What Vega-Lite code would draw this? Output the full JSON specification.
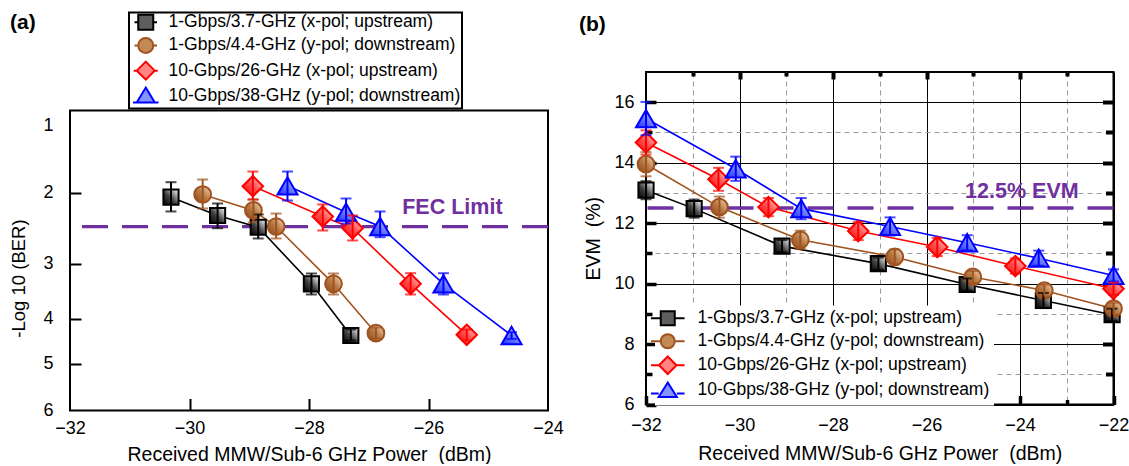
{
  "$schema": "https://vega.github.io/schema/vega-lite/v6.json",
  "padding": {"left": 9, "top": 11, "right": 0, "bottom": 0},
  "background": "white",
  "spacing": 14,
  "align": "none",
  "config": {
    "font": "Liberation Sans",
    "view": {"stroke": "black", "strokeWidth": 2},
    "axis": {"labelFont": "Liberation Sans", "labelFontSize": 18, "labelColor": "#000000", "titleFont": "Liberation Sans", "titleFontSize": 19.5, "titleFontWeight": "normal", "titleColor": "#000000", "domain": false, "grid": false, "tickColor": "#000000", "labelFlush": false, "labelOverlap": false},
    "legend": {"labelFont": "Liberation Sans", "labelColor": "#000000", "labelLimit": 400, "symbolOpacity": 1, "strokeWidth": 2},
    "title": {"font": "Liberation Sans", "fontSize": 21, "fontWeight": "bold", "color": "#000000", "anchor": "start"}
  },
  "datasets": {
    "a": [
      {"series": "1-Gbps/3.7-GHz (x-pol; upstream)", "x": -30.31, "y": 2.066, "lo": 1.846, "hi": 2.266},
      {"series": "1-Gbps/3.7-GHz (x-pol; upstream)", "x": -29.53, "y": 2.323, "lo": 2.154, "hi": 2.501},
      {"series": "1-Gbps/3.7-GHz (x-pol; upstream)", "x": -28.85, "y": 2.487, "lo": 2.308, "hi": 2.645},
      {"series": "1-Gbps/3.7-GHz (x-pol; upstream)", "x": -27.96, "y": 3.364, "lo": 3.176, "hi": 3.558},
      {"series": "1-Gbps/3.7-GHz (x-pol; upstream)", "x": -27.30, "y": 4.374, "lo": 4.239, "hi": 4.485},
      {"series": "1-Gbps/4.4-GHz (y-pol; downstream)", "x": -29.78, "y": 2.028, "lo": 1.806, "hi": 2.224},
      {"series": "1-Gbps/4.4-GHz (y-pol; downstream)", "x": -28.93, "y": 2.252, "lo": 2.098, "hi": 2.42},
      {"series": "1-Gbps/4.4-GHz (y-pol; downstream)", "x": -28.55, "y": 2.477, "lo": 2.295, "hi": 2.645},
      {"series": "1-Gbps/4.4-GHz (y-pol; downstream)", "x": -27.59, "y": 3.364, "lo": 3.176, "hi": 3.558},
      {"series": "1-Gbps/4.4-GHz (y-pol; downstream)", "x": -26.88, "y": 4.322, "lo": 4.195, "hi": 4.44},
      {"series": "10-Gbps/26-GHz (x-pol; upstream)", "x": -28.94, "y": 1.906, "lo": 1.687, "hi": 2.098},
      {"series": "10-Gbps/26-GHz (x-pol; upstream)", "x": -27.77, "y": 2.337, "lo": 2.168, "hi": 2.533},
      {"series": "10-Gbps/26-GHz (x-pol; upstream)", "x": -27.27, "y": 2.501, "lo": 2.322, "hi": 2.673},
      {"series": "10-Gbps/26-GHz (x-pol; upstream)", "x": -26.30, "y": 3.364, "lo": 3.171, "hi": 3.558},
      {"series": "10-Gbps/26-GHz (x-pol; upstream)", "x": -25.36, "y": 4.358, "lo": 4.24, "hi": 4.485},
      {"series": "10-Gbps/38-GHz (y-pol; downstream)", "x": -28.36, "y": 1.90, "lo": 1.687, "hi": 2.112},
      {"series": "10-Gbps/38-GHz (y-pol; downstream)", "x": -27.38, "y": 2.276, "lo": 2.084, "hi": 2.435},
      {"series": "10-Gbps/38-GHz (y-pol; downstream)", "x": -26.81, "y": 2.477, "lo": 2.266, "hi": 2.627},
      {"series": "10-Gbps/38-GHz (y-pol; downstream)", "x": -25.75, "y": 3.364, "lo": 3.171, "hi": 3.558},
      {"series": "10-Gbps/38-GHz (y-pol; downstream)", "x": -24.61, "y": 4.374, "lo": 4.30, "hi": 4.45}
    ],
    "b": [
      {"series": "1-Gbps/3.7-GHz (x-pol; upstream)", "x": -32.00, "y": 13.09, "lo": 12.79, "hi": 13.39},
      {"series": "1-Gbps/3.7-GHz (x-pol; upstream)", "x": -30.97, "y": 12.48, "lo": 12.18, "hi": 12.78},
      {"series": "1-Gbps/3.7-GHz (x-pol; upstream)", "x": -29.09, "y": 11.24, "lo": 11.04, "hi": 11.44},
      {"series": "1-Gbps/3.7-GHz (x-pol; upstream)", "x": -27.03, "y": 10.66, "lo": 10.46, "hi": 10.86},
      {"series": "1-Gbps/3.7-GHz (x-pol; upstream)", "x": -25.13, "y": 9.97, "lo": 9.77, "hi": 10.17},
      {"series": "1-Gbps/3.7-GHz (x-pol; upstream)", "x": -23.50, "y": 9.44, "lo": 9.19, "hi": 9.69},
      {"series": "1-Gbps/3.7-GHz (x-pol; upstream)", "x": -22.03, "y": 8.97, "lo": 8.77, "hi": 9.17},
      {"series": "1-Gbps/4.4-GHz (y-pol; downstream)", "x": -32.00, "y": 13.95, "lo": 13.55, "hi": 14.35},
      {"series": "1-Gbps/4.4-GHz (y-pol; downstream)", "x": -30.43, "y": 12.53, "lo": 12.18, "hi": 12.88},
      {"series": "1-Gbps/4.4-GHz (y-pol; downstream)", "x": -28.70, "y": 11.45, "lo": 11.15, "hi": 11.75},
      {"series": "1-Gbps/4.4-GHz (y-pol; downstream)", "x": -26.68, "y": 10.88, "lo": 10.63, "hi": 11.13},
      {"series": "1-Gbps/4.4-GHz (y-pol; downstream)", "x": -25.01, "y": 10.22, "lo": 10.02, "hi": 10.42},
      {"series": "1-Gbps/4.4-GHz (y-pol; downstream)", "x": -23.48, "y": 9.77, "lo": 9.57, "hi": 9.97},
      {"series": "1-Gbps/4.4-GHz (y-pol; downstream)", "x": -22.00, "y": 9.17, "lo": 8.97, "hi": 9.37},
      {"series": "10-Gbps/26-GHz (x-pol; upstream)", "x": -32.00, "y": 14.67, "lo": 14.27, "hi": 15.07},
      {"series": "10-Gbps/26-GHz (x-pol; upstream)", "x": -30.45, "y": 13.45, "lo": 13.07, "hi": 13.83},
      {"series": "10-Gbps/26-GHz (x-pol; upstream)", "x": -29.38, "y": 12.53, "lo": 12.23, "hi": 12.83},
      {"series": "10-Gbps/26-GHz (x-pol; upstream)", "x": -27.46, "y": 11.74, "lo": 11.44, "hi": 12.04},
      {"series": "10-Gbps/26-GHz (x-pol; upstream)", "x": -25.77, "y": 11.21, "lo": 10.91, "hi": 11.51},
      {"series": "10-Gbps/26-GHz (x-pol; upstream)", "x": -24.10, "y": 10.58, "lo": 10.33, "hi": 10.83},
      {"series": "10-Gbps/26-GHz (x-pol; upstream)", "x": -22.00, "y": 9.83, "lo": 9.63, "hi": 10.03},
      {"series": "10-Gbps/38-GHz (y-pol; downstream)", "x": -32.00, "y": 15.46, "lo": 14.91, "hi": 16.01},
      {"series": "10-Gbps/38-GHz (y-pol; downstream)", "x": -30.08, "y": 13.80, "lo": 13.40, "hi": 14.20},
      {"series": "10-Gbps/38-GHz (y-pol; downstream)", "x": -28.68, "y": 12.48, "lo": 12.13, "hi": 12.83},
      {"series": "10-Gbps/38-GHz (y-pol; downstream)", "x": -26.78, "y": 11.89, "lo": 11.59, "hi": 12.19},
      {"series": "10-Gbps/38-GHz (y-pol; downstream)", "x": -25.13, "y": 11.35, "lo": 11.10, "hi": 11.60},
      {"series": "10-Gbps/38-GHz (y-pol; downstream)", "x": -23.60, "y": 10.84, "lo": 10.59, "hi": 11.09},
      {"series": "10-Gbps/38-GHz (y-pol; downstream)", "x": -22.00, "y": 10.27, "lo": 10.07, "hi": 10.47}
    ]
  },
  "resolve": {
    "scale": {"color": "independent", "stroke": "independent", "fill": "independent", "shape": "independent"},
    "legend": {"color": "independent", "stroke": "independent", "fill": "independent", "shape": "independent"}
  },
  "hconcat": [
    {
      "width": 478,
      "height": 338.5,
      "view": {"stroke": null},
      "title": {"text": "(a)", "frame": "group", "anchor": "start", "offset": -21.5, "dx": -60},
      "resolve": {"axis": {"x": "independent", "y": "independent"}},
      "layer": [
        {
          "data": {"values": [{"frame": "plot"}]},
          "mark": {"type": "rect", "fillOpacity": 0, "stroke": "#000000", "strokeWidth": 2},
          "encoding": {
            "x": {"datum": -32, "type": "quantitative", "scale": {"domain": [-32, -24], "nice": false, "zero": false}, "axis": null},
            "x2": {"datum": -24},
            "y": {"datum": 0.78, "type": "quantitative", "scale": {"domain": [0.5, 0.78, 1, 2, 3, 4, 5, 6], "range": [0, 38.5, 53.5, 120.5, 191.8, 246.8, 291.5, 338.5], "nice": false, "zero": false}, "axis": null},
            "y2": {"datum": 6}
          }
        },
        {
          "data": {"values": [{"fec": 2.48}]},
          "mark": {"type": "rule", "color": "#7030a0", "strokeWidth": 3.3, "strokeDash": [26, 14]},
          "encoding": {
            "y": {"field": "fec", "type": "quantitative",
              "scale": {"domain": [0.5, 0.78, 1, 2, 3, 4, 5, 6], "range": [0, 38.5, 53.5, 120.5, 191.8, 246.8, 291.5, 338.5], "nice": false, "zero": false},
              "axis": {"orient": "left", "title": "-Log 10 (BER)", "values": [1, 2, 3, 4, 5, 6], "tickSize": -11, "tickWidth": 2,
                "tickOpacity": {"condition": {"test": "datum.value == 1 || datum.value == 6", "value": 0}, "value": 1},
                "labelPadding": 28, "titleFontSize": 18.5, "titlePadding": 14, "titleY": 206}}
          }
        },
        {
          "data": {"name": "a"},
          "mark": {"type": "line", "strokeWidth": 1.6},
          "encoding": {
            "x": {"field": "x", "type": "quantitative", "scale": {"domain": [-32, -24], "nice": false, "zero": false},
              "axis": {"orient": "bottom", "title": "Received MMW/Sub-6 GHz Power\u00a0\u00a0(dBm)", "values": [-32, -30, -28, -26, -24], "tickSize": -12, "tickWidth": 2,
                "tickOpacity": {"condition": {"test": "datum.value == -32 || datum.value == -24", "value": 0}, "value": 1},
                "labelPadding": 21, "titlePadding": 8}},
            "y": {"field": "y", "type": "quantitative", "scale": {"domain": [0.5, 0.78, 1, 2, 3, 4, 5, 6], "range": [0, 38.5, 53.5, 120.5, 191.8, 246.8, 291.5, 338.5], "nice": false, "zero": false}, "axis": null},
            "color": {"field": "series", "type": "nominal", "legend": null,
              "scale": {"domain": ["10-Gbps/38-GHz (y-pol; downstream)", "10-Gbps/26-GHz (x-pol; upstream)", "1-Gbps/4.4-GHz (y-pol; downstream)", "1-Gbps/3.7-GHz (x-pol; upstream)"], "range": ["#0000ff", "#ff0000", "#a0521f", "#000000"]}}
          }
        },
        {
          "data": {"name": "a"},
          "transform": [{"filter": {"field": "series", "equal": "1-Gbps/3.7-GHz (x-pol; upstream)"}}],
          "mark": {"type": "point", "shape": "square", "size": 230, "filled": true, "opacity": 1, "strokeWidth": 2, "stroke": "#000000",
            "fill": {"gradient": "linear", "x1": 0, "y1": 1, "x2": 1, "y2": 0, "stops": [{"offset": 0, "color": "#000000"}, {"offset": 0.45, "color": "#404040"}, {"offset": 1, "color": "#ffffff"}]}},
          "encoding": {
            "x": {"field": "x", "type": "quantitative", "scale": {"domain": [-32, -24], "nice": false, "zero": false}, "axis": null},
            "y": {"field": "y", "type": "quantitative", "scale": {"domain": [0.5, 0.78, 1, 2, 3, 4, 5, 6], "range": [0, 38.5, 53.5, 120.5, 191.8, 246.8, 291.5, 338.5], "nice": false, "zero": false}, "axis": null}
          }
        },
        {
          "data": {"name": "a"},
          "transform": [{"filter": {"field": "series", "equal": "1-Gbps/4.4-GHz (y-pol; downstream)"}}],
          "mark": {"type": "point", "shape": "circle", "size": 280, "filled": true, "opacity": 1, "strokeWidth": 2, "stroke": "#a0521f",
            "fill": {"gradient": "linear", "x1": 0, "y1": 1, "x2": 1, "y2": 0, "stops": [{"offset": 0, "color": "#8a4515"}, {"offset": 0.5, "color": "#b87a45"}, {"offset": 1, "color": "#f3dcc4"}]}},
          "encoding": {
            "x": {"field": "x", "type": "quantitative", "scale": {"domain": [-32, -24], "nice": false, "zero": false}, "axis": null},
            "y": {"field": "y", "type": "quantitative", "scale": {"domain": [0.5, 0.78, 1, 2, 3, 4, 5, 6], "range": [0, 38.5, 53.5, 120.5, 191.8, 246.8, 291.5, 338.5], "nice": false, "zero": false}, "axis": null}
          }
        },
        {
          "data": {"name": "a"},
          "transform": [{"filter": {"field": "series", "equal": "10-Gbps/26-GHz (x-pol; upstream)"}}],
          "mark": {"type": "point", "shape": "diamond", "size": 420, "filled": true, "opacity": 1, "strokeWidth": 2, "stroke": "#ff0000",
            "fill": {"gradient": "linear", "x1": 0, "y1": 1, "x2": 1, "y2": 0, "stops": [{"offset": 0, "color": "#ff0000"}, {"offset": 0.5, "color": "#ff5050"}, {"offset": 1, "color": "#ffe2e2"}]}},
          "encoding": {
            "x": {"field": "x", "type": "quantitative", "scale": {"domain": [-32, -24], "nice": false, "zero": false}, "axis": null},
            "y": {"field": "y", "type": "quantitative", "scale": {"domain": [0.5, 0.78, 1, 2, 3, 4, 5, 6], "range": [0, 38.5, 53.5, 120.5, 191.8, 246.8, 291.5, 338.5], "nice": false, "zero": false}, "axis": null}
          }
        },
        {
          "data": {"name": "a"},
          "transform": [{"filter": {"field": "series", "equal": "10-Gbps/38-GHz (y-pol; downstream)"}}],
          "mark": {"type": "point", "shape": "triangle-up", "size": 400, "filled": true, "opacity": 1, "strokeWidth": 2, "stroke": "#0000ff",
            "fill": {"gradient": "linear", "x1": 0, "y1": 1, "x2": 1, "y2": 0, "stops": [{"offset": 0, "color": "#1a2cff"}, {"offset": 0.5, "color": "#7080ff"}, {"offset": 1, "color": "#e6e9ff"}]}},
          "encoding": {
            "x": {"field": "x", "type": "quantitative", "scale": {"domain": [-32, -24], "nice": false, "zero": false}, "axis": null},
            "y": {"field": "y", "type": "quantitative", "scale": {"domain": [0.5, 0.78, 1, 2, 3, 4, 5, 6], "range": [0, 38.5, 53.5, 120.5, 191.8, 246.8, 291.5, 338.5], "nice": false, "zero": false}, "axis": null}
          }
        },
        {
          "data": {"name": "a"},
          "mark": {"type": "point", "filled": true, "opacity": 0},
          "encoding": {
            "x": {"field": "x", "type": "quantitative", "scale": {"domain": [-32, -24], "nice": false, "zero": false}, "axis": null},
            "y": {"field": "y", "type": "quantitative", "scale": {"domain": [0.5, 0.78, 1, 2, 3, 4, 5, 6], "range": [0, 38.5, 53.5, 120.5, 191.8, 246.8, 291.5, 338.5], "nice": false, "zero": false}, "axis": null},
            "stroke": {"field": "series", "type": "nominal",
              "scale": {"domain": ["1-Gbps/3.7-GHz (x-pol; upstream)", "1-Gbps/4.4-GHz (y-pol; downstream)", "10-Gbps/26-GHz (x-pol; upstream)", "10-Gbps/38-GHz (y-pol; downstream)"], "range": ["#000000", "#a0521f", "#ff0000", "#0000ff"]},
              "legend": {"orient": "none", "legendX": 59, "legendY": -59.5, "title": null, "direction": "vertical", "labelFontSize": 17.5, "symbolSize": 225, "symbolStrokeWidth": 2, "symbolOpacity": 1, "strokeColor": "#000000", "fillColor": "white", "padding": 1, "rowPadding": -0.8, "symbolOffset": 7, "labelOffset": 14}},
            "fill": {"field": "series", "type": "nominal",
              "scale": {"domain": ["1-Gbps/3.7-GHz (x-pol; upstream)", "1-Gbps/4.4-GHz (y-pol; downstream)", "10-Gbps/26-GHz (x-pol; upstream)", "10-Gbps/38-GHz (y-pol; downstream)"], "range": ["#5e5e5e", "#c48a55", "#ff8484", "#8494ff"]}},
            "shape": {"field": "series", "type": "nominal",
              "scale": {"domain": ["1-Gbps/3.7-GHz (x-pol; upstream)", "1-Gbps/4.4-GHz (y-pol; downstream)", "10-Gbps/26-GHz (x-pol; upstream)", "10-Gbps/38-GHz (y-pol; downstream)"],
                "range": ["M-1.5,0H-1M1,0H1.5M-1,-1H1V1H-1Z", "M-1.5,0H-1M1,0H1.5M-1,0A1,1,0,1,1,1,0A1,1,0,1,1,-1,0Z", "M-1.6,0H-1.2M1.2,0H1.6M0,-1.2L1.2,0L0,1.2L-1.2,0Z", "M-1.7,0.9H-1.2M1.2,0.9H1.7M0,-1.1L1.2,0.9L-1.2,0.9Z"]}}
          }
        },
        {
          "data": {"name": "a"},
          "mark": {"type": "errorbar", "ticks": {"size": 11}, "thickness": 2},
          "encoding": {
            "x": {"field": "x", "type": "quantitative", "scale": {"domain": [-32, -24], "nice": false, "zero": false}, "axis": null},
            "y": {"field": "lo", "type": "quantitative", "scale": {"domain": [0.5, 0.78, 1, 2, 3, 4, 5, 6], "range": [0, 38.5, 53.5, 120.5, 191.8, 246.8, 291.5, 338.5], "nice": false, "zero": false}, "axis": null},
            "y2": {"field": "hi"},
            "color": {"field": "series", "type": "nominal", "legend": null,
              "scale": {"domain": ["10-Gbps/38-GHz (y-pol; downstream)", "10-Gbps/26-GHz (x-pol; upstream)", "1-Gbps/4.4-GHz (y-pol; downstream)", "1-Gbps/3.7-GHz (x-pol; upstream)"], "range": ["#0000ff", "#ff0000", "#a0521f", "#000000"]}}
          }
        },
        {
          "data": {"values": [{"label": "FEC Limit", "x": -25.6, "y": 2.215}]},
          "mark": {"type": "text", "font": "Liberation Sans", "fontSize": 21.5, "fontWeight": "bold", "color": "#7030a0", "align": "center", "baseline": "middle"},
          "encoding": {
            "x": {"field": "x", "type": "quantitative", "scale": {"domain": [-32, -24], "nice": false, "zero": false}, "axis": null},
            "y": {"field": "y", "type": "quantitative", "scale": {"domain": [0.5, 0.78, 1, 2, 3, 4, 5, 6], "range": [0, 38.5, 53.5, 120.5, 191.8, 246.8, 291.5, 338.5], "nice": false, "zero": false}, "axis": null},
            "text": {"field": "label"}
          }
        }
      ]
    },
    {
      "width": 467.5,
      "height": 332.5,
      "title": {"text": "(b)", "frame": "group", "anchor": "start", "offset": 35, "dx": -67},
      "resolve": {"axis": {"x": "independent", "y": "independent"}},
      "layer": [
        {
          "data": {"values": [{"evm": 12.5}]},
          "mark": {"type": "rule", "color": "#7030a0", "strokeWidth": 3.3, "strokeDash": [26, 14]},
          "encoding": {
            "y": {"field": "evm", "type": "quantitative", "scale": {"domain": [6, 17], "nice": false, "zero": false},
              "axis": {"orient": "left", "title": "EVM\u00a0\u00a0(%)", "values": [6, 7, 8, 9, 10, 11, 12, 13, 14, 15, 16],
                "labelExpr": "datum.value % 2 == 0 ? datum.label : ''",
                "tickSize": {"condition": {"test": "datum.value % 2 == 0", "value": -10}, "value": -6},
                "tickWidth": 3.5,
                "grid": true,
                "gridColor": {"condition": {"test": "datum.value % 2 == 0", "value": "#000000"}, "value": "#9a9a9a"},
                "gridDash": {"condition": {"test": "datum.value % 2 == 0", "value": []}, "value": [5, 4]},
                "gridWidth": 1,
                "labelPadding": 22, "titlePadding": 10}}
          }
        },
        {
          "data": {"name": "b"},
          "mark": {"type": "line", "strokeWidth": 1.6},
          "encoding": {
            "x": {"field": "x", "type": "quantitative", "scale": {"domain": [-32, -22], "nice": false, "zero": false},
              "axis": {"orient": "bottom", "title": "Received MMW/Sub-6 GHz Power\u00a0\u00a0(dBm)", "values": [-32, -31, -30, -29, -28, -27, -26, -25, -24, -23, -22],
                "labelExpr": "datum.value % 2 == 0 ? datum.label : ''",
                "tickSize": {"condition": {"test": "datum.value % 2 == 0", "value": -9}, "value": -5},
                "tickWidth": 3.5,
                "grid": true,
                "gridColor": {"condition": {"test": "datum.value % 2 == 0", "value": "#000000"}, "value": "#9a9a9a"},
                "gridDash": {"condition": {"test": "datum.value % 2 == 0", "value": []}, "value": [5, 4]},
                "gridWidth": 1,
                "labelPadding": 21, "titlePadding": 6}},
            "y": {"field": "y", "type": "quantitative", "scale": {"domain": [6, 17], "nice": false, "zero": false}, "axis": null},
            "color": {"field": "series", "type": "nominal", "legend": null,
              "scale": {"domain": ["10-Gbps/38-GHz (y-pol; downstream)", "10-Gbps/26-GHz (x-pol; upstream)", "1-Gbps/4.4-GHz (y-pol; downstream)", "1-Gbps/3.7-GHz (x-pol; upstream)"], "range": ["#0000ff", "#ff0000", "#a0521f", "#000000"]}}
          }
        },
        {
          "data": {"name": "b"},
          "transform": [{"filter": {"field": "series", "equal": "1-Gbps/3.7-GHz (x-pol; upstream)"}}],
          "mark": {"type": "point", "shape": "square", "size": 230, "filled": true, "opacity": 1, "strokeWidth": 2, "stroke": "#000000",
            "fill": {"gradient": "linear", "x1": 0, "y1": 1, "x2": 1, "y2": 0, "stops": [{"offset": 0, "color": "#000000"}, {"offset": 0.45, "color": "#404040"}, {"offset": 1, "color": "#ffffff"}]}},
          "encoding": {
            "x": {"field": "x", "type": "quantitative", "scale": {"domain": [-32, -22], "nice": false, "zero": false},
              "axis": {"orient": "top", "labels": false, "title": null, "values": [-31, -30, -29, -28, -27, -26, -25, -24, -23],
                "tickSize": {"condition": {"test": "datum.value % 2 == 0", "value": -7}, "value": -4}, "tickWidth": 4, "grid": false}},
            "y": {"field": "y", "type": "quantitative", "scale": {"domain": [6, 17], "nice": false, "zero": false},
              "axis": {"orient": "right", "labels": false, "title": null, "values": [7, 8, 9, 10, 11, 12, 13, 14, 15, 16],
                "tickSize": {"condition": {"test": "datum.value % 2 == 0", "value": -11}, "value": -8}, "tickWidth": 4, "grid": false}}
          }
        },
        {
          "data": {"name": "b"},
          "transform": [{"filter": {"field": "series", "equal": "1-Gbps/4.4-GHz (y-pol; downstream)"}}],
          "mark": {"type": "point", "shape": "circle", "size": 280, "filled": true, "opacity": 1, "strokeWidth": 2, "stroke": "#a0521f",
            "fill": {"gradient": "linear", "x1": 0, "y1": 1, "x2": 1, "y2": 0, "stops": [{"offset": 0, "color": "#8a4515"}, {"offset": 0.5, "color": "#b87a45"}, {"offset": 1, "color": "#f3dcc4"}]}},
          "encoding": {
            "x": {"field": "x", "type": "quantitative", "scale": {"domain": [-32, -22], "nice": false, "zero": false}, "axis": null},
            "y": {"field": "y", "type": "quantitative", "scale": {"domain": [6, 17], "nice": false, "zero": false}, "axis": null}
          }
        },
        {
          "data": {"name": "b"},
          "transform": [{"filter": {"field": "series", "equal": "10-Gbps/26-GHz (x-pol; upstream)"}}],
          "mark": {"type": "point", "shape": "diamond", "size": 420, "filled": true, "opacity": 1, "strokeWidth": 2, "stroke": "#ff0000",
            "fill": {"gradient": "linear", "x1": 0, "y1": 1, "x2": 1, "y2": 0, "stops": [{"offset": 0, "color": "#ff0000"}, {"offset": 0.5, "color": "#ff5050"}, {"offset": 1, "color": "#ffe2e2"}]}},
          "encoding": {
            "x": {"field": "x", "type": "quantitative", "scale": {"domain": [-32, -22], "nice": false, "zero": false}, "axis": null},
            "y": {"field": "y", "type": "quantitative", "scale": {"domain": [6, 17], "nice": false, "zero": false}, "axis": null}
          }
        },
        {
          "data": {"name": "b"},
          "transform": [{"filter": {"field": "series", "equal": "10-Gbps/38-GHz (y-pol; downstream)"}}],
          "mark": {"type": "point", "shape": "triangle-up", "size": 400, "filled": true, "opacity": 1, "strokeWidth": 2, "stroke": "#0000ff",
            "fill": {"gradient": "linear", "x1": 0, "y1": 1, "x2": 1, "y2": 0, "stops": [{"offset": 0, "color": "#1a2cff"}, {"offset": 0.5, "color": "#7080ff"}, {"offset": 1, "color": "#e6e9ff"}]}},
          "encoding": {
            "x": {"field": "x", "type": "quantitative", "scale": {"domain": [-32, -22], "nice": false, "zero": false}, "axis": null},
            "y": {"field": "y", "type": "quantitative", "scale": {"domain": [6, 17], "nice": false, "zero": false}, "axis": null}
          }
        },
        {
          "data": {"name": "b"},
          "mark": {"type": "point", "filled": true, "opacity": 0},
          "encoding": {
            "x": {"field": "x", "type": "quantitative", "scale": {"domain": [-32, -22], "nice": false, "zero": false}, "axis": null},
            "y": {"field": "y", "type": "quantitative", "scale": {"domain": [6, 17], "nice": false, "zero": false}, "axis": null},
            "stroke": {"field": "series", "type": "nominal",
              "scale": {"domain": ["1-Gbps/3.7-GHz (x-pol; upstream)", "1-Gbps/4.4-GHz (y-pol; downstream)", "10-Gbps/26-GHz (x-pol; upstream)", "10-Gbps/38-GHz (y-pol; downstream)"], "range": ["#000000", "#a0521f", "#ff0000", "#0000ff"]},
              "legend": {"orient": "none", "legendX": 9, "legendY": 233.5, "title": null, "direction": "vertical", "labelFontSize": 17.5, "symbolSize": 196, "symbolStrokeWidth": 2, "symbolOpacity": 1, "fillColor": "white", "strokeColor": null, "padding": 4, "rowPadding": 0, "labelOffset": 21}},
            "fill": {"field": "series", "type": "nominal",
              "scale": {"domain": ["1-Gbps/3.7-GHz (x-pol; upstream)", "1-Gbps/4.4-GHz (y-pol; downstream)", "10-Gbps/26-GHz (x-pol; upstream)", "10-Gbps/38-GHz (y-pol; downstream)"], "range": ["#5e5e5e", "#c48a55", "#ff8484", "#8494ff"]}},
            "shape": {"field": "series", "type": "nominal",
              "scale": {"domain": ["1-Gbps/3.7-GHz (x-pol; upstream)", "1-Gbps/4.4-GHz (y-pol; downstream)", "10-Gbps/26-GHz (x-pol; upstream)", "10-Gbps/38-GHz (y-pol; downstream)"],
                "range": ["M-2.4,0H-1M1,0H2.4M-1,-1H1V1H-1Z", "M-2.4,0H-1M1,0H2.4M-1,0A1,1,0,1,1,1,0A1,1,0,1,1,-1,0Z", "M-2.4,0H-1.25M1.25,0H2.4M0,-1.25L1.25,0L0,1.25L-1.25,0Z", "M-2.4,0.45H-1.3M1.3,0.45H2.4M0,-1.1L1.3,0.95L-1.3,0.95Z"]}}
          }
        },
        {
          "data": {"name": "b"},
          "mark": {"type": "errorbar", "ticks": {"size": 11}, "thickness": 2},
          "encoding": {
            "x": {"field": "x", "type": "quantitative", "scale": {"domain": [-32, -22], "nice": false, "zero": false}, "axis": null},
            "y": {"field": "lo", "type": "quantitative", "scale": {"domain": [6, 17], "nice": false, "zero": false}, "axis": null},
            "y2": {"field": "hi"},
            "color": {"field": "series", "type": "nominal", "legend": null,
              "scale": {"domain": ["10-Gbps/38-GHz (y-pol; downstream)", "10-Gbps/26-GHz (x-pol; upstream)", "1-Gbps/4.4-GHz (y-pol; downstream)", "1-Gbps/3.7-GHz (x-pol; upstream)"], "range": ["#0000ff", "#ff0000", "#a0521f", "#000000"]}}
          }
        },
        {
          "data": {"values": [{"label": "12.5% EVM", "x": -23.96, "y": 13.03}]},
          "mark": {"type": "text", "font": "Liberation Sans", "fontSize": 21.5, "fontWeight": "bold", "color": "#7030a0", "align": "center", "baseline": "middle"},
          "encoding": {
            "x": {"field": "x", "type": "quantitative", "scale": {"domain": [-32, -22], "nice": false, "zero": false}, "axis": null},
            "y": {"field": "y", "type": "quantitative", "scale": {"domain": [6, 17], "nice": false, "zero": false}, "axis": null},
            "text": {"field": "label"}
          }
        }
      ]
    }
  ]
}
